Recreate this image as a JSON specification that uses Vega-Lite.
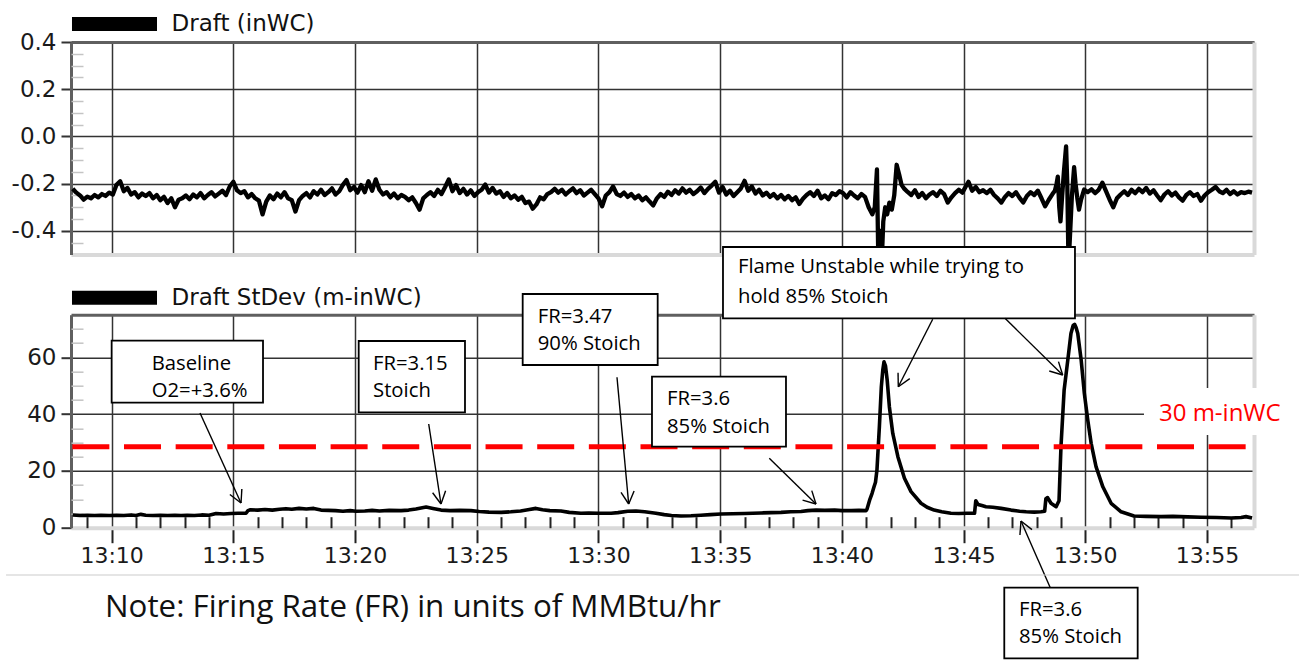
{
"$schema": "https://vega.github.io/schema/vega-lite/v6.json",
"background": "white",
"padding": {"left": 5, "top": 6, "right": 0, "bottom": 0},
"bounds": "flush",
"spacing": 59.7,
"config": {"view": {"stroke": null}},
"resolve": {"scale": {"color": "independent"}, "legend": {"color": "independent"}},
"datasets": {
"draft": [{"x":8.4,"y":-0.222},{"x":8.55,"y":-0.238},{"x":8.7,"y":-0.25},{"x":8.85,"y":-0.268},{"x":9,"y":-0.255},{"x":9.15,"y":-0.262},{"x":9.3,"y":-0.248},{"x":9.45,"y":-0.258},{"x":9.6,"y":-0.244},{"x":9.75,"y":-0.252},
{"x":9.9,"y":-0.238},{"x":10.05,"y":-0.246},{"x":10.2,"y":-0.205},{"x":10.35,"y":-0.19},{"x":10.5,"y":-0.232},{"x":10.65,"y":-0.218},{"x":10.8,"y":-0.246},{"x":10.95,"y":-0.236},{"x":11.1,"y":-0.258},{"x":11.25,"y":-0.242},
{"x":11.4,"y":-0.252},{"x":11.55,"y":-0.24},{"x":11.7,"y":-0.262},{"x":11.85,"y":-0.248},{"x":12,"y":-0.27},{"x":12.15,"y":-0.256},{"x":12.3,"y":-0.282},{"x":12.45,"y":-0.262},{"x":12.6,"y":-0.3},{"x":12.75,"y":-0.268},
{"x":12.9,"y":-0.262},{"x":13.05,"y":-0.25},{"x":13.2,"y":-0.266},{"x":13.35,"y":-0.246},{"x":13.5,"y":-0.258},{"x":13.65,"y":-0.24},{"x":13.8,"y":-0.262},{"x":13.95,"y":-0.248},{"x":14.1,"y":-0.236},{"x":14.25,"y":-0.254},
{"x":14.4,"y":-0.242},{"x":14.55,"y":-0.23},{"x":14.7,"y":-0.248},{"x":14.85,"y":-0.212},{"x":15,"y":-0.192},{"x":15.15,"y":-0.228},{"x":15.3,"y":-0.24},{"x":15.45,"y":-0.232},{"x":15.6,"y":-0.258},{"x":15.75,"y":-0.244},
{"x":15.9,"y":-0.262},{"x":16.05,"y":-0.272},{"x":16.2,"y":-0.33},{"x":16.35,"y":-0.276},{"x":16.5,"y":-0.25},{"x":16.65,"y":-0.266},{"x":16.8,"y":-0.242},{"x":16.95,"y":-0.258},{"x":17.1,"y":-0.236},{"x":17.25,"y":-0.262},
{"x":17.4,"y":-0.27},{"x":17.55,"y":-0.318},{"x":17.7,"y":-0.27},{"x":17.85,"y":-0.252},{"x":18,"y":-0.24},{"x":18.15,"y":-0.258},{"x":18.3,"y":-0.232},{"x":18.45,"y":-0.246},{"x":18.6,"y":-0.226},{"x":18.75,"y":-0.248},
{"x":18.9,"y":-0.236},{"x":19.05,"y":-0.22},{"x":19.2,"y":-0.246},{"x":19.35,"y":-0.232},{"x":19.5,"y":-0.205},{"x":19.65,"y":-0.185},{"x":19.8,"y":-0.228},{"x":19.95,"y":-0.214},{"x":20.1,"y":-0.238},{"x":20.25,"y":-0.206},
{"x":20.4,"y":-0.236},{"x":20.55,"y":-0.19},{"x":20.7,"y":-0.23},{"x":20.85,"y":-0.182},{"x":21,"y":-0.226},{"x":21.15,"y":-0.246},{"x":21.3,"y":-0.236},{"x":21.45,"y":-0.258},{"x":21.6,"y":-0.242},{"x":21.75,"y":-0.262},
{"x":21.9,"y":-0.248},{"x":22.05,"y":-0.256},{"x":22.2,"y":-0.27},{"x":22.35,"y":-0.258},{"x":22.5,"y":-0.282},{"x":22.65,"y":-0.31},{"x":22.8,"y":-0.262},{"x":22.95,"y":-0.248},{"x":23.1,"y":-0.236},{"x":23.25,"y":-0.252},
{"x":23.4,"y":-0.226},{"x":23.55,"y":-0.244},{"x":23.7,"y":-0.214},{"x":23.85,"y":-0.182},{"x":24,"y":-0.232},{"x":24.15,"y":-0.206},{"x":24.3,"y":-0.24},{"x":24.45,"y":-0.222},{"x":24.6,"y":-0.246},{"x":24.75,"y":-0.228},
{"x":24.9,"y":-0.252},{"x":25.05,"y":-0.236},{"x":25.2,"y":-0.226},{"x":25.35,"y":-0.204},{"x":25.5,"y":-0.238},{"x":25.65,"y":-0.218},{"x":25.8,"y":-0.242},{"x":25.95,"y":-0.232},{"x":26.1,"y":-0.256},{"x":26.25,"y":-0.24},
{"x":26.4,"y":-0.262},{"x":26.55,"y":-0.25},{"x":26.7,"y":-0.268},{"x":26.85,"y":-0.256},{"x":27,"y":-0.282},{"x":27.15,"y":-0.276},{"x":27.3,"y":-0.306},{"x":27.45,"y":-0.288},{"x":27.6,"y":-0.258},{"x":27.75,"y":-0.266},
{"x":27.9,"y":-0.244},{"x":28.05,"y":-0.236},{"x":28.2,"y":-0.222},{"x":28.35,"y":-0.238},{"x":28.5,"y":-0.226},{"x":28.65,"y":-0.246},{"x":28.8,"y":-0.232},{"x":28.95,"y":-0.22},{"x":29.1,"y":-0.24},{"x":29.25,"y":-0.228},
{"x":29.4,"y":-0.25},{"x":29.55,"y":-0.238},{"x":29.7,"y":-0.226},{"x":29.85,"y":-0.244},{"x":30,"y":-0.262},{"x":30.15,"y":-0.296},{"x":30.3,"y":-0.25},{"x":30.45,"y":-0.236},{"x":30.6,"y":-0.212},{"x":30.75,"y":-0.244},
{"x":30.9,"y":-0.252},{"x":31.05,"y":-0.238},{"x":31.2,"y":-0.256},{"x":31.35,"y":-0.244},{"x":31.5,"y":-0.262},{"x":31.65,"y":-0.25},{"x":31.8,"y":-0.27},{"x":31.95,"y":-0.258},{"x":32.1,"y":-0.276},{"x":32.25,"y":-0.292},
{"x":32.4,"y":-0.262},{"x":32.55,"y":-0.244},{"x":32.7,"y":-0.256},{"x":32.85,"y":-0.234},{"x":33,"y":-0.248},{"x":33.15,"y":-0.228},{"x":33.3,"y":-0.242},{"x":33.45,"y":-0.22},{"x":33.6,"y":-0.238},{"x":33.75,"y":-0.226},
{"x":33.9,"y":-0.244},{"x":34.05,"y":-0.232},{"x":34.2,"y":-0.216},{"x":34.35,"y":-0.24},{"x":34.5,"y":-0.222},{"x":34.65,"y":-0.208},{"x":34.8,"y":-0.192},{"x":34.95,"y":-0.238},{"x":35.1,"y":-0.214},{"x":35.25,"y":-0.246},
{"x":35.4,"y":-0.23},{"x":35.55,"y":-0.252},{"x":35.7,"y":-0.236},{"x":35.85,"y":-0.22},{"x":36,"y":-0.188},{"x":36.15,"y":-0.23},{"x":36.3,"y":-0.212},{"x":36.45,"y":-0.242},{"x":36.6,"y":-0.226},{"x":36.75,"y":-0.25},
{"x":36.9,"y":-0.238},{"x":37.05,"y":-0.256},{"x":37.2,"y":-0.244},{"x":37.35,"y":-0.262},{"x":37.5,"y":-0.248},{"x":37.65,"y":-0.266},{"x":37.8,"y":-0.252},{"x":37.95,"y":-0.27},{"x":38.1,"y":-0.258},{"x":38.25,"y":-0.286},
{"x":38.4,"y":-0.264},{"x":38.55,"y":-0.248},{"x":38.7,"y":-0.236},{"x":38.85,"y":-0.252},{"x":39,"y":-0.23},{"x":39.15,"y":-0.262},{"x":39.3,"y":-0.25},{"x":39.45,"y":-0.266},{"x":39.6,"y":-0.24},{"x":39.75,"y":-0.248},
{"x":39.9,"y":-0.232},{"x":40.05,"y":-0.24},{"x":40.2,"y":-0.258},{"x":40.35,"y":-0.236},{"x":40.5,"y":-0.25},{"x":40.65,"y":-0.262},{"x":40.8,"y":-0.244},{"x":40.95,"y":-0.256},{"x":41.1,"y":-0.3},{"x":41.25,"y":-0.33},
{"x":41.35,"y":-0.3},{"x":41.44,"y":-0.14},{"x":41.5,"y":-0.55},{"x":41.58,"y":-0.4},{"x":41.63,"y":-0.55},{"x":41.7,"y":-0.36},{"x":41.78,"y":-0.3},{"x":41.86,"y":-0.33},{"x":41.95,"y":-0.28},{"x":42.05,"y":-0.31},
{"x":42.15,"y":-0.25},{"x":42.25,"y":-0.12},{"x":42.35,"y":-0.16},{"x":42.45,"y":-0.205},{"x":42.55,"y":-0.22},{"x":42.7,"y":-0.235},{"x":42.85,"y":-0.248},{"x":43,"y":-0.228},{"x":43.15,"y":-0.256},{"x":43.3,"y":-0.24},
{"x":43.45,"y":-0.262},{"x":43.6,"y":-0.246},{"x":43.75,"y":-0.236},{"x":43.9,"y":-0.252},{"x":44.05,"y":-0.23},{"x":44.2,"y":-0.244},{"x":44.35,"y":-0.28},{"x":44.5,"y":-0.258},{"x":44.65,"y":-0.24},{"x":44.8,"y":-0.226},
{"x":44.95,"y":-0.238},{"x":45.1,"y":-0.21},{"x":45.2,"y":-0.192},{"x":45.35,"y":-0.23},{"x":45.5,"y":-0.214},{"x":45.65,"y":-0.236},{"x":45.8,"y":-0.228},{"x":45.95,"y":-0.24},{"x":46.1,"y":-0.226},{"x":46.25,"y":-0.248},
{"x":46.4,"y":-0.262},{"x":46.55,"y":-0.28},{"x":46.7,"y":-0.256},{"x":46.85,"y":-0.24},{"x":47,"y":-0.252},{"x":47.15,"y":-0.236},{"x":47.3,"y":-0.26},{"x":47.45,"y":-0.28},{"x":47.6,"y":-0.252},{"x":47.75,"y":-0.236},
{"x":47.9,"y":-0.248},{"x":48.05,"y":-0.23},{"x":48.2,"y":-0.262},{"x":48.35,"y":-0.296},{"x":48.5,"y":-0.268},{"x":48.65,"y":-0.244},{"x":48.75,"y":-0.23},{"x":48.82,"y":-0.2},{"x":48.87,"y":-0.17},{"x":48.93,"y":-0.3},
{"x":48.98,"y":-0.36},{"x":49.05,"y":-0.25},{"x":49.12,"y":-0.15},{"x":49.21,"y":-0.042},{"x":49.26,"y":-0.2},{"x":49.31,"y":-0.55},{"x":49.38,"y":-0.4},{"x":49.45,"y":-0.25},{"x":49.54,"y":-0.13},{"x":49.6,"y":-0.2},
{"x":49.67,"y":-0.26},{"x":49.74,"y":-0.31},{"x":49.82,"y":-0.27},{"x":49.95,"y":-0.225},{"x":50.1,"y":-0.236},{"x":50.25,"y":-0.224},{"x":50.4,"y":-0.24},{"x":50.55,"y":-0.226},{"x":50.7,"y":-0.196},{"x":50.85,"y":-0.232},
{"x":51,"y":-0.268},{"x":51.15,"y":-0.3},{"x":51.3,"y":-0.262},{"x":51.45,"y":-0.246},{"x":51.6,"y":-0.232},{"x":51.75,"y":-0.248},{"x":51.9,"y":-0.226},{"x":52.05,"y":-0.24},{"x":52.2,"y":-0.222},{"x":52.35,"y":-0.236},
{"x":52.5,"y":-0.218},{"x":52.65,"y":-0.242},{"x":52.8,"y":-0.228},{"x":52.95,"y":-0.25},{"x":53.1,"y":-0.27},{"x":53.25,"y":-0.246},{"x":53.4,"y":-0.232},{"x":53.55,"y":-0.25},{"x":53.7,"y":-0.238},{"x":53.85,"y":-0.258},
{"x":54,"y":-0.272},{"x":54.15,"y":-0.248},{"x":54.3,"y":-0.236},{"x":54.45,"y":-0.252},{"x":54.6,"y":-0.244},{"x":54.75,"y":-0.272},{"x":54.9,"y":-0.25},{"x":55.05,"y":-0.236},{"x":55.2,"y":-0.226},{"x":55.35,"y":-0.214},
{"x":55.5,"y":-0.232},{"x":55.65,"y":-0.24},{"x":55.8,"y":-0.226},{"x":55.95,"y":-0.244},{"x":56.1,"y":-0.232},{"x":56.25,"y":-0.246},{"x":56.4,"y":-0.236},{"x":56.55,"y":-0.24},{"x":56.7,"y":-0.234},{"x":56.85,"y":-0.238}],
"stdev": [{"x":8.4,"y":4.5},{"x":8.7,"y":4.3},{"x":9,"y":4.4},{"x":9.3,"y":4.3},{"x":9.56,"y":4.4},{"x":9.9,"y":4.3},{"x":10.2,"y":4.4},{"x":10.5,"y":4.3},{"x":10.8,"y":4.5},{"x":11,"y":4.3},
{"x":11.2,"y":4.7},{"x":11.4,"y":4.4},{"x":11.7,"y":4.3},{"x":12,"y":4.4},{"x":12.3,"y":4.3},{"x":12.6,"y":4.4},{"x":12.85,"y":4.3},{"x":13.1,"y":4.4},{"x":13.4,"y":4.3},{"x":13.7,"y":4.5},
{"x":14,"y":4.4},{"x":14.29,"y":5},{"x":14.6,"y":4.8},{"x":14.9,"y":5},{"x":15.2,"y":5.1},{"x":15.52,"y":5.1},{"x":15.6,"y":6},{"x":15.7,"y":6.3},{"x":16,"y":6.2},{"x":16.3,"y":6.4},
{"x":16.6,"y":6.2},{"x":16.9,"y":6.5},{"x":17.16,"y":6.7},{"x":17.4,"y":6.5},{"x":17.7,"y":6.8},{"x":18,"y":6.6},{"x":18.3,"y":6.8},{"x":18.6,"y":6.2},{"x":18.9,"y":6.1},{"x":19.2,"y":6},
{"x":19.5,"y":5.8},{"x":19.8,"y":6},{"x":20.04,"y":5.8},{"x":20.4,"y":5.9},{"x":20.7,"y":6.1},{"x":21,"y":5.9},{"x":21.4,"y":6.1},{"x":21.89,"y":6},{"x":22.2,"y":6.2},{"x":22.5,"y":6.6},
{"x":22.92,"y":7.3},{"x":23.2,"y":6.8},{"x":23.53,"y":6.2},{"x":23.9,"y":6},{"x":24.3,"y":6.1},{"x":24.76,"y":6},{"x":25.1,"y":5.7},{"x":25.5,"y":5.5},{"x":26,"y":5.4},{"x":26.4,"y":5.6},
{"x":26.8,"y":5.9},{"x":27.1,"y":6.3},{"x":27.43,"y":6.8},{"x":27.7,"y":6.3},{"x":28,"y":6},{"x":28.46,"y":5.9},{"x":28.8,"y":5.4},{"x":29.28,"y":5.1},{"x":29.6,"y":5.2},{"x":30,"y":5.1},
{"x":30.52,"y":5.1},{"x":30.8,"y":5.3},{"x":31.2,"y":5.8},{"x":31.54,"y":5.9},{"x":31.9,"y":5.6},{"x":32.36,"y":5.1},{"x":32.7,"y":4.6},{"x":33,"y":4.3},{"x":33.39,"y":4.1},{"x":33.8,"y":4.2},
{"x":34.2,"y":4.4},{"x":34.6,"y":4.6},{"x":35.03,"y":4.8},{"x":35.5,"y":4.9},{"x":36,"y":5},{"x":36.68,"y":5.2},{"x":37.1,"y":5.3},{"x":37.5,"y":5.4},{"x":37.9,"y":5.6},{"x":38.32,"y":5.7},
{"x":38.6,"y":6},{"x":38.94,"y":6.2},{"x":39.3,"y":6.1},{"x":39.7,"y":6.2},{"x":40,"y":6},{"x":40.38,"y":6},{"x":40.7,"y":6.1},{"x":40.99,"y":6},{"x":41.03,"y":6.5},{"x":41.15,"y":10},
{"x":41.24,"y":12.1},{"x":41.32,"y":14.4},{"x":41.38,"y":16},{"x":41.44,"y":20.3},{"x":41.54,"y":35.6},{"x":41.62,"y":49.6},{"x":41.68,"y":55.5},{"x":41.73,"y":58.4},{"x":41.79,"y":57},{"x":41.86,"y":52},
{"x":41.95,"y":42.6},{"x":42.09,"y":33.2},{"x":42.3,"y":25},{"x":42.57,"y":17.4},{"x":42.84,"y":12.7},{"x":43.25,"y":8.6},{"x":43.5,"y":7.2},{"x":43.79,"y":6.2},{"x":44.1,"y":5.6},{"x":44.48,"y":5.1},
{"x":44.8,"y":5},{"x":45.14,"y":5.1},{"x":45.45,"y":5.1},{"x":45.5,"y":9.5},{"x":45.59,"y":8.2},{"x":45.75,"y":7.8},{"x":45.92,"y":7.4},{"x":46.2,"y":7.2},{"x":46.54,"y":6.8},{"x":46.95,"y":6.2},
{"x":47.3,"y":5.8},{"x":47.57,"y":5.6},{"x":47.9,"y":5.5},{"x":48.18,"y":5.6},{"x":48.33,"y":5.8},{"x":48.38,"y":10.2},{"x":48.45,"y":10.6},{"x":48.59,"y":8.6},{"x":48.8,"y":7.4},{"x":48.92,"y":9.5},
{"x":49,"y":28.5},{"x":49.13,"y":48.5},{"x":49.28,"y":59},{"x":49.41,"y":68.4},{"x":49.5,"y":71.2},{"x":49.56,"y":71.6},{"x":49.62,"y":70.5},{"x":49.69,"y":68.4},{"x":49.83,"y":59},{"x":49.96,"y":47.3},
{"x":50.1,"y":37.9},{"x":50.24,"y":29.7},{"x":50.44,"y":21.5},{"x":50.72,"y":14.4},{"x":51.06,"y":8.6},{"x":51.47,"y":5.6},{"x":52,"y":4.1},{"x":52.5,"y":4},{"x":53.11,"y":3.9},{"x":53.6,"y":4},
{"x":54.2,"y":3.8},{"x":54.76,"y":3.7},{"x":55.4,"y":3.6},{"x":55.99,"y":3.4},{"x":56.4,"y":3.6},{"x":56.6,"y":3.9},{"x":56.85,"y":3.4}],
"boxes": [{"x":10.0,"x2":16.218,"y":65.845,"y2":44.014},{"x":20.149,"x2":24.516,"y":65.739,"y2":40.634},{"x":26.886,"x2":32.432,"y":82.289,"y2":57.289},{"x":32.198,"x2":37.703,"y":53.169,"y2":28.521},{"x":35.115,"x2":49.575,"y":98.838,"y2":73.732},{"x":46.671,"x2":52.151,"y":-21.127,"y2":-45.986}],
"notes": [{"x":11.645,"y":55.528,"t":"Baseline"},{"x":11.645,"y":46.021,"t":"O2=+3.6%"},{"x":20.737,"y":55.528,"t":"FR=3.15"},{"x":20.737,"y":46.021,"t":"Stoich"},{"x":27.503,"y":72.183,"t":"FR=3.47"},{"x":27.503,"y":62.57,"t":"90% Stoich"},{"x":32.815,"y":43.204,"t":"FR=3.6"},{"x":32.815,"y":33.451,"t":"85% Stoich"},{"x":35.731,"y":89.683,"t":"Flame Unstable while trying to"},{"x":35.731,"y":79.014,"t":"hold 85% Stoich"},{"x":47.275,"y":-31.092,"t":"FR=3.6"},{"x":47.275,"y":-40.704,"t":"85% Stoich"}],
"arrows": [{"x":13.63,"y":40.387,"x2":15.314,"y2":8.697},{"x":15.314,"y":8.697,"x2":15.349,"y2":13.616},{"x":15.314,"y":8.697,"x2":14.857,"y2":11.697},
{"x":23.025,"y":36.514,"x2":23.53,"y2":8.345},{"x":23.53,"y":8.345,"x2":23.72,"y2":13.0},{"x":23.53,"y":8.345,"x2":23.186,"y2":12.296},
{"x":30.76,"y":52.958,"x2":31.241,"y2":8.345},{"x":31.241,"y":8.345,"x2":31.463,"y2":12.891},{"x":31.241,"y":8.345,"x2":30.926,"y2":12.465},
{"x":37.017,"y":24.437,"x2":38.936,"y2":8.345},{"x":38.936,"y":8.345,"x2":38.762,"y2":13.042},{"x":38.936,"y":8.345,"x2":38.384,"y2":9.736},
{"x":43.73,"y":73.38,"x2":42.317,"y2":49.648},{"x":42.317,"y":49.648,"x2":42.788,"y2":52.472},{"x":42.317,"y":49.648,"x2":42.307,"y2":54.577},
{"x":46.7,"y":73.732,"x2":49.071,"y2":53.768},{"x":49.071,"y":53.768,"x2":48.897,"y2":58.468},{"x":49.071,"y":53.768,"x2":48.519,"y2":55.165},
{"x":48.561,"y":-21.127,"x2":47.357,"y2":2.359},{"x":47.357,"y":2.359,"x2":47.314,"y2":-2.556},{"x":47.357,"y":2.359,"x2":47.809,"y2":-0.694}]
},
"vconcat": [
{
"width": 1183,
"height": 212.5,
"layer": [
{
"data": {"name": "draft"},
"mark": {"type": "line", "strokeWidth": 4.3, "clip": true, "strokeJoin": "round"},
"encoding": {
"x": {"field": "x", "type": "quantitative", "scale": {"domain": [8.33, 56.93], "nice": false, "zero": false},
"axis": {"orient": "bottom", "values": [10,15,20,25,30,35,40,45,50,55], "grid": true, "gridColor": "#333333", "gridWidth": 1.5, "ticks": false, "labels": false, "domain": true, "domainColor": "#d9d9d9", "domainWidth": 4, "title": null}},
"y": {"field": "y", "type": "quantitative", "scale": {"domain": [-0.5, 0.4], "nice": false, "zero": false},
"axis": {"orient": "left", "values": [-0.4,-0.2,0,0.2,0.4], "grid": true, "gridColor": "#333333", "gridWidth": 1.5, "tickSize": 10, "tickColor": "#333333", "tickWidth": 2, "labelFont": "DejaVu Sans", "labelFontSize": 23, "labelColor": "#1a1a1a", "labelPadding": 5, "labelOverlap": false, "labelExpr": "replace(format(datum.value, '.1f'), '\u2212', '-')", "domainColor": "#5f5f5f", "domainWidth": 3, "title": null}},
"color": {"datum": "Draft (inWC)", "type": "nominal", "scale": {"range": ["#000000"]},
"legend": {"orient": "none", "legendX": 25.5, "legendY": -36, "title": null, "symbolType": "M-3.864,0H3.864", "symbolSize": 484, "symbolStrokeWidth": 14, "symbolStrokeColor": "#000000", "labelFont": "DejaVu Sans", "labelFontSize": 23, "labelColor": "#111111", "labelOffset": 39, "padding": 0, "labelLimit": 400}}
}
},
{
"data": {"values": [{"x": 30, "y": 0}]},
"mark": {"type": "point", "opacity": 0},
"encoding": {
"x": {"field": "x", "type": "quantitative", "scale": {"domain": [8.33, 56.93], "nice": false, "zero": false},
"axis": {"orient": "top", "grid": false, "ticks": false, "labels": false, "domainColor": "#5f5f5f", "domainWidth": 3, "title": null}},
"y": {"field": "y", "type": "quantitative", "scale": {"domain": [-0.5, 0.4], "nice": false, "zero": false},
"axis": {"orient": "right", "grid": false, "ticks": false, "labels": false, "domainColor": "#d9d9d9", "domainWidth": 4, "title": null}}
}
},
{
"data": {"values": [{"x": 30, "y": 0}]},
"mark": {"type": "point", "opacity": 0},
"encoding": {
"x": {"field": "x", "type": "quantitative", "scale": {"domain": [8.33, 56.93], "nice": false, "zero": false}, "axis": null},
"y": {"field": "y", "type": "quantitative", "scale": {"domain": [-0.5, 0.4], "nice": false, "zero": false},
"axis": {"orient": "left", "values": [-0.45,-0.35,-0.3,-0.25,-0.15,-0.1,-0.05,0.05,0.1,0.15,0.25,0.3,0.35], "grid": false, "labels": false, "domain": false, "tickSize": -12, "tickColor": "#c4c4c4", "tickWidth": 1.5, "title": null}}
}
}
],
"resolve": {"axis": {"x": "independent", "y": "independent"}}
},
{
"width": 1183,
"height": 213,
"layer": [
{
"data": {"name": "stdev"},
"mark": {"type": "line", "strokeWidth": 3.6, "clip": true, "strokeJoin": "round"},
"encoding": {
"x": {"field": "x", "type": "quantitative", "scale": {"domain": [8.33, 56.93], "nice": false, "zero": false},
"axis": {"orient": "bottom", "values": [10,15,20,25,30,35,40,45,50,55], "grid": true, "gridColor": "#333333", "gridWidth": 1.5, "ticks": true, "tickSize": 15, "tickColor": "#222222", "tickWidth": 2, "labelFont": "DejaVu Sans", "labelFontSize": 22, "labelColor": "#1a1a1a", "labelPadding": 3, "labelFlush": false, "labelOverlap": false, "labelExpr": "'13:' + format(datum.value, '02d')", "domainColor": "#d9d9d9", "domainWidth": 4, "title": null}},
"y": {"field": "y", "type": "quantitative", "scale": {"domain": [0, 75], "nice": false, "zero": false},
"axis": {"orient": "left", "values": [0,20,40,60], "grid": true, "gridColor": {"condition": {"test": "datum.value === 0", "value": "transparent"}, "value": "#333333"}, "gridWidth": 1.5, "tickSize": 10, "tickColor": "#333333", "tickWidth": 2, "labelFont": "DejaVu Sans", "labelFontSize": 23, "labelColor": "#1a1a1a", "labelPadding": 5, "labelOverlap": false, "domainColor": "#5f5f5f", "domainWidth": 3, "title": null}},
"color": {"datum": "Draft StDev (m-inWC)", "type": "nominal", "scale": {"range": ["#000000"]},
"legend": {"orient": "none", "legendX": 25.5, "legendY": -35, "title": null, "symbolType": "M-3.864,0H3.864", "symbolSize": 484, "symbolStrokeWidth": 14, "symbolStrokeColor": "#000000", "labelFont": "DejaVu Sans", "labelFontSize": 23, "labelColor": "#111111", "labelOffset": 39, "padding": 0, "labelLimit": 400}}
}
},
{
"data": {"values": [{"x": 30, "y": 10}]},
"mark": {"type": "point", "opacity": 0},
"encoding": {
"x": {"field": "x", "type": "quantitative", "scale": {"domain": [8.33, 56.93], "nice": false, "zero": false},
"axis": {"orient": "bottom", "values": [9,11,12,13,14,16,17,18,19,21,22,23,24,26,27,28,29,31,32,33,34,36,37,38,39,41,42,43,44,46,47,48,49,51,52,53,54,56], "grid": false, "labels": false, "domain": false, "ticks": true, "tickSize": -11, "tickColor": "#222222", "tickWidth": 2, "title": null}},
"y": {"field": "y", "type": "quantitative", "scale": {"domain": [0, 75], "nice": false, "zero": false},
"axis": {"orient": "left", "values": [5,10,15,25,30,35,45,50,55,65,70], "grid": false, "labels": false, "domain": false, "tickSize": -12, "tickColor": "#c4c4c4", "tickWidth": 1.5, "title": null}}
}
},
{
"data": {"values": [{"x": 30, "y": 10}]},
"mark": {"type": "point", "opacity": 0},
"encoding": {
"x": {"field": "x", "type": "quantitative", "scale": {"domain": [8.33, 56.93], "nice": false, "zero": false},
"axis": {"orient": "top", "grid": false, "ticks": false, "labels": false, "domainColor": "#5f5f5f", "domainWidth": 3, "title": null}},
"y": {"field": "y", "type": "quantitative", "scale": {"domain": [0, 75], "nice": false, "zero": false},
"axis": {"orient": "right", "grid": false, "ticks": false, "labels": false, "domainColor": "#d9d9d9", "domainWidth": 4, "title": null}}
}
},
{
"data": {"values": [{"y": 28.5}]},
"mark": {"type": "rule", "color": "#ff0000", "strokeWidth": 5, "strokeDash": [37, 14.65], "strokeDashOffset": 43.3},
"encoding": {
"y": {"field": "y", "type": "quantitative", "scale": {"domain": [0, 75], "nice": false, "zero": false}, "axis": null}
}
},
{
"data": {"values": [{"x": 52.41, "x2": 58.449, "y": 49.19, "y2": 32.641}]},
"mark": {"type": "rect", "fill": "#ffffff", "clip": false},
"encoding": {
"x": {"field": "x", "type": "quantitative", "scale": {"domain": [8.33, 56.93], "nice": false, "zero": false}, "axis": null},
"x2": {"field": "x2"},
"y": {"field": "y", "type": "quantitative", "scale": {"domain": [0, 75], "nice": false, "zero": false}, "axis": null},
"y2": {"field": "y2"}
}
},
{
"data": {"values": [{"x": 53.026, "y": 37.57, "t": "30 m-inWC"}]},
"mark": {"type": "text", "align": "left", "baseline": "alphabetic", "font": "Open Sans", "fontSize": 24, "color": "#ff0000", "clip": false},
"encoding": {
"x": {"field": "x", "type": "quantitative", "scale": {"domain": [8.33, 56.93], "nice": false, "zero": false}, "axis": null},
"y": {"field": "y", "type": "quantitative", "scale": {"domain": [0, 75], "nice": false, "zero": false}, "axis": null},
"text": {"field": "t"}
}
},
{
"data": {"name": "boxes"},
"mark": {"type": "rect", "fill": "#ffffff", "stroke": "#000000", "strokeWidth": 1.8, "clip": false},
"encoding": {
"x": {"field": "x", "type": "quantitative", "scale": {"domain": [8.33, 56.93], "nice": false, "zero": false}, "axis": null},
"x2": {"field": "x2"},
"y": {"field": "y", "type": "quantitative", "scale": {"domain": [0, 75], "nice": false, "zero": false}, "axis": null},
"y2": {"field": "y2"}
}
},
{
"data": {"name": "notes"},
"mark": {"type": "text", "align": "left", "baseline": "alphabetic", "font": "Open Sans", "fontSize": 20.3, "color": "#000000", "clip": false},
"encoding": {
"x": {"field": "x", "type": "quantitative", "scale": {"domain": [8.33, 56.93], "nice": false, "zero": false}, "axis": null},
"y": {"field": "y", "type": "quantitative", "scale": {"domain": [0, 75], "nice": false, "zero": false}, "axis": null},
"text": {"field": "t"}
}
},
{
"data": {"name": "arrows"},
"mark": {"type": "rule", "color": "#000000", "strokeWidth": 1.4, "clip": false},
"encoding": {
"x": {"field": "x", "type": "quantitative", "scale": {"domain": [8.33, 56.93], "nice": false, "zero": false}, "axis": null},
"x2": {"field": "x2"},
"y": {"field": "y", "type": "quantitative", "scale": {"domain": [0, 75], "nice": false, "zero": false}, "axis": null},
"y2": {"field": "y2"}
}
},
{
"data": {"values": [{"x": 5.66, "x2": 58.819, "y": -16.655}]},
"mark": {"type": "rule", "color": "#cccccc", "strokeWidth": 1.2, "clip": false},
"encoding": {
"x": {"field": "x", "type": "quantitative", "scale": {"domain": [8.33, 56.93], "nice": false, "zero": false}, "axis": null},
"x2": {"field": "x2"},
"y": {"field": "y", "type": "quantitative", "scale": {"domain": [0, 75], "nice": false, "zero": false}, "axis": null}
}
},
{
"data": {"values": [{"x": 9.727, "y": -31.444, "t": "Note: Firing Rate (FR) in units of MMBtu/hr"}]},
"mark": {"type": "text", "align": "left", "baseline": "alphabetic", "font": "Open Sans", "fontSize": 31.3, "color": "#111111", "clip": false},
"encoding": {
"x": {"field": "x", "type": "quantitative", "scale": {"domain": [8.33, 56.93], "nice": false, "zero": false}, "axis": null},
"y": {"field": "y", "type": "quantitative", "scale": {"domain": [0, 75], "nice": false, "zero": false}, "axis": null},
"text": {"field": "t"}
}
}
],
"resolve": {"axis": {"x": "independent", "y": "independent"}}
}
]
}
